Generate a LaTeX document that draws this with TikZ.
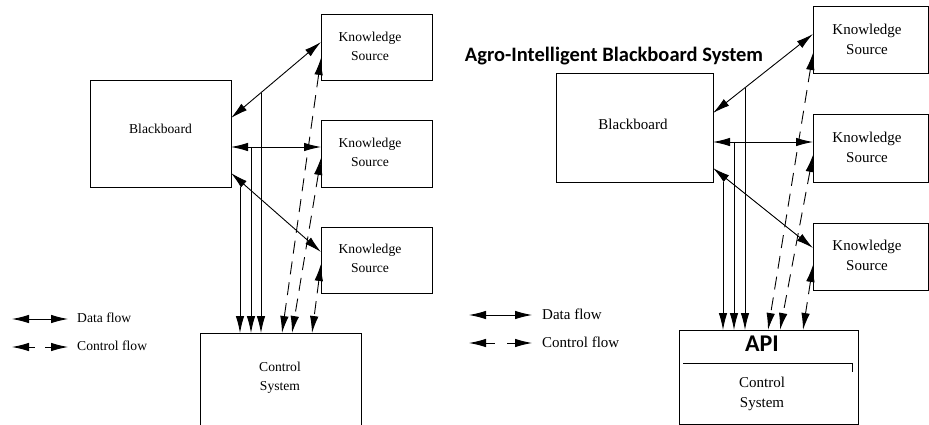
\documentclass[tikz,border=0pt]{standalone}
\usepackage{fontspec}
\setmainfont{Liberation Serif}
\newfontfamily\headfont{Carlito}
\usetikzlibrary{arrows.meta,calc}

\tikzset{
  box/.style={draw, line width=1pt, inner sep=0pt, align=center},
  txtL/.style={inner sep=0pt, align=center, font=\fontsize{13.6}{19}\selectfont},
  txtR/.style={inner sep=0pt, align=center, font=\fontsize{15}{20}\selectfont},
  tip/.tip={Latex[length=17pt,width=8.5pt]},
  wire/.style={line width=0.9pt},
  both/.style={wire, tip-tip},
  down/.style={wire, -tip},
  ctrl/.style={wire, tip-tip, dash pattern=on 13pt off 8pt},
}

\begin{document}
\begin{tikzpicture}[x=1pt,y=-1pt]
\useasboundingbox (0,0) rectangle (929,425);
\clip (0,0) rectangle (929,425);

% ---------------- left: classic blackboard architecture ----------------
\node[box, minimum width=141pt, minimum height=106pt] (bbL) at (160.5,134) {};
\node[txtL] (bbLt) at (160.5,129) {Blackboard};
\node[box, minimum width=111pt, minimum height=66pt] (ks1L) at (376.5,48) {};
\node[box, minimum width=111pt, minimum height=66pt] (ks2L) at (376.5,154) {};
\node[box, minimum width=111pt, minimum height=66pt] (ks3L) at (376.5,260) {};
\node[txtL] (ks1Lt) at (370,46.5) {Knowledge\\Source};
\node[txtL] (ks2Lt) at (370,152.5) {Knowledge\\Source};
\node[txtL] (ks3Lt) at (370,258.5) {Knowledge\\Source};
\node[box, minimum width=161pt, minimum height=110pt] (csL) at (280.5,388) {};
\node[txtL] (csLt) at (280,377.5) {Control\\System};

% data flow between blackboard and knowledge sources
\coordinate (bL1) at (231,118);  \coordinate (kL1) at (321,42);
\coordinate (bL2) at (231,147);  \coordinate (kL2) at (321,147);
\coordinate (bL3) at (231,173);  \coordinate (kL3) at (321,252);
\draw[both] (bL1) -- (kL1);
\draw[both] (bL2) -- (kL2);
\draw[both] (bL3) -- (kL3);

% data flow down to the control system
\coordinate (vL1) at (240,187);   \coordinate (cL1) at (240,333);
\coordinate (vL2) at (251,147);   \coordinate (cL2) at (251,333);
\coordinate (vL3) at ($(bL1)!0.3333!(kL1)$); \coordinate (cL3) at (vL3 |- cL1);
\draw[down] (vL1) -- (cL1);
\draw[down] (vL2) -- (cL2);
\draw[down] (vL3) -- (cL3);

% control flow between knowledge sources and control system
\coordinate (dL1) at (321,58);   \coordinate (eL1) at (282,333);
\coordinate (dL2) at (321,158);  \coordinate (eL2) at (292,333);
\coordinate (dL3) at (321,264);  \coordinate (eL3) at (312,333);
\draw[ctrl] (dL1) -- (eL1);
\draw[ctrl] (dL2) -- (eL2);
\draw[ctrl] (dL3) -- (eL3);

% legend
\coordinate (gL1) at (12,319);  \coordinate (gL2) at (68,319);
\draw[both] (gL1) -- (gL2);
\node[txtL, anchor=west] (gLt1) at (77,318) {Data flow};
\coordinate (gL3) at (12,347);  \coordinate (gL4) at (35,347);
\coordinate (gL5) at (45,347);  \coordinate (gL6) at (68,347);
\draw[wire, tip-] (gL3) -- (gL4);
\draw[wire, -tip] (gL5) -- (gL6);
\node[txtL, anchor=west] (gLt2) at (77,346) {Control flow};

% ---------------- right: agro-intelligent blackboard system ----------------
\node[inner sep=0pt, font=\headfont\bfseries\fontsize{20.5}{24}\selectfont] (title) at (614,56) {Agro-Intelligent Blackboard System};

\node[box, minimum width=157pt, minimum height=108pt] (bbR) at (634.5,128) {};
\node[txtR] (bbRt) at (633,124) {Blackboard};
\node[box, minimum width=115.5pt, minimum height=67pt] (ks1R) at (870.75,40.5) {};
\node[box, minimum width=115.5pt, minimum height=67pt] (ks2R) at (870.75,148.5) {};
\node[box, minimum width=115.5pt, minimum height=67pt] (ks3R) at (870.75,256.5) {};
\node[txtR] (ks1Rt) at (867,39) {Knowledge\\Source};
\node[txtR] (ks2Rt) at (867,147) {Knowledge\\Source};
\node[txtR] (ks3Rt) at (867,255) {Knowledge\\Source};
\node[box, minimum width=179pt, minimum height=94pt] (csR) at (768.5,377) {};
\node[inner sep=0pt, font=\headfont\bfseries\fontsize{24}{28}\selectfont] (api) at (762,344) {API};
\coordinate (uR1) at (683,363);  \coordinate (uR2) at (852,363);  \coordinate (uR3) at (852,372);
\draw[line width=1pt] (uR1) -- (uR2) -- (uR3);
\node[txtR] (csRt) at (762,394) {Control\\System};

% data flow between blackboard and knowledge sources
\coordinate (bR1) at (713,113);  \coordinate (kR1) at (813,34);
\coordinate (bR2) at (713,142);  \coordinate (kR2) at (813,142);
\coordinate (bR3) at (713,168);  \coordinate (kR3) at (813,248);
\draw[both] (bR1) -- (kR1);
\draw[both] (bR2) -- (kR2);
\draw[both] (bR3) -- (kR3);

% data flow down to the API
\coordinate (vR1) at (723,182);   \coordinate (cR1) at (723,330);
\coordinate (vR2) at (734,142);   \coordinate (cR2) at (734,330);
\coordinate (vR3) at ($(bR1)!0.32!(kR1)$); \coordinate (cR3) at (vR3 |- cR1);
\draw[down] (vR1) -- (cR1);
\draw[down] (vR2) -- (cR2);
\draw[down] (vR3) -- (cR3);

% control flow between knowledge sources and the API
\coordinate (dR1) at (813,53);   \coordinate (eR1) at (768,330);
\coordinate (dR2) at (813,155);  \coordinate (eR2) at (780,330);
\coordinate (dR3) at (813,265);  \coordinate (eR3) at (803,330);
\draw[ctrl] (dR1) -- (eR1);
\draw[ctrl] (dR2) -- (eR2);
\draw[ctrl] (dR3) -- (eR3);

% legend
\coordinate (gR1) at (469,315);  \coordinate (gR2) at (532,315);
\draw[both] (gR1) -- (gR2);
\node[txtR, anchor=west] (gRt1) at (542,314) {Data flow};
\coordinate (gR3) at (469,343);  \coordinate (gR4) at (495,343);
\coordinate (gR5) at (507,343);  \coordinate (gR6) at (532,343);
\draw[wire, tip-] (gR3) -- (gR4);
\draw[wire, -tip] (gR5) -- (gR6);
\node[txtR, anchor=west] (gRt2) at (542,342) {Control flow};
\end{tikzpicture}
\end{document}
